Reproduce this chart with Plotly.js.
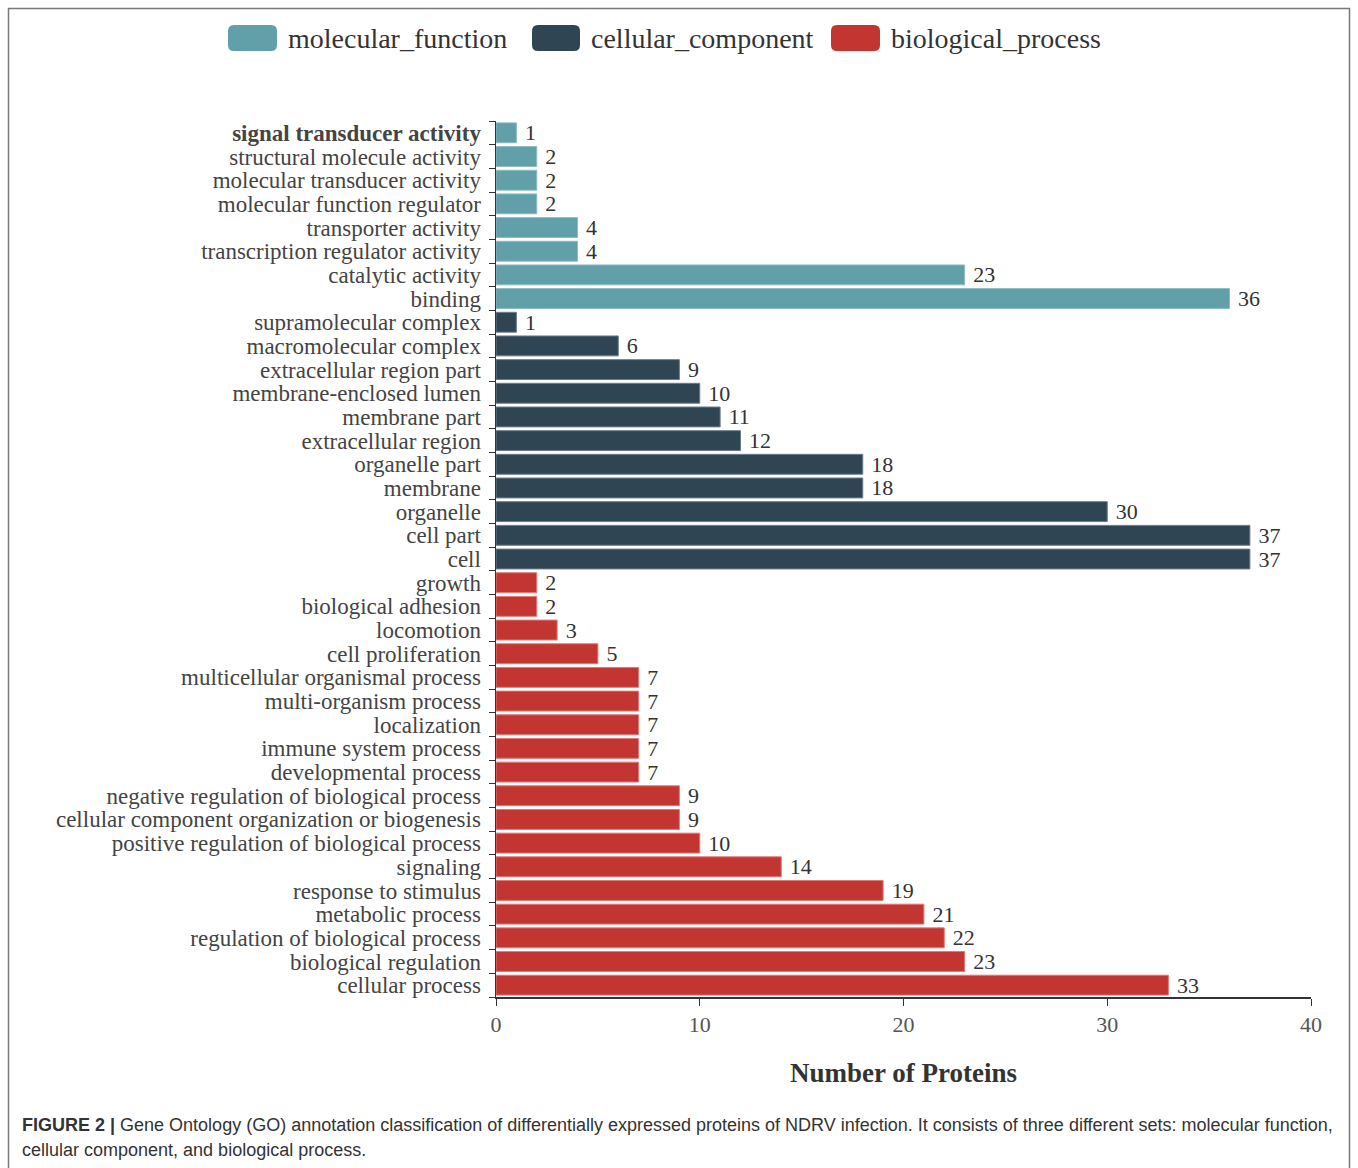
<!DOCTYPE html>
<html>
<head>
<meta charset="utf-8">
<script src="https://cdn.plot.ly/plotly-3.0.1.min.js"></script>
<style>
html,body{margin:0;padding:0;background:#fff;}
#chart{width:1358px;height:1168px;}
</style>
</head>
<body>
<div id="chart"></div>
<script>
// ---- data (top-to-bottom order) ----
const mfTerms = ["signal transducer activity","structural molecule activity","molecular transducer activity","molecular function regulator","transporter activity","transcription regulator activity","catalytic activity","binding"];
const mfCounts = [1,2,2,2,4,4,23,36];

const ccTerms = ["supramolecular complex","macromolecular complex","extracellular region part","membrane-enclosed lumen","membrane part","extracellular region","organelle part","membrane","organelle","cell part","cell"];
const ccCounts = [1,6,9,10,11,12,18,18,30,37,37];

const bpTerms = ["growth","biological adhesion","locomotion","cell proliferation","multicellular organismal process","multi-organism process","localization","immune system process","developmental process","negative regulation of biological process","cellular component organization or biogenesis","positive regulation of biological process","signaling","response to stimulus","metabolic process","regulation of biological process","biological regulation","cellular process"];
const bpCounts = [2,2,3,5,7,7,7,7,7,9,9,10,14,19,21,22,23,33];

const seriesNames = ["molecular_function","cellular_component","biological_process"];
const seriesColors = ["#61a0a8","#2f4554","#c23531"];
const seriesEdge = ["#8dbcc2","#6a7c8a","#de7a76"];

const xTicks = [0,10,20,30,40];
const xTitle = "Number of Proteins";
const captionLine1 = "<b>FIGURE 2 |</b> Gene Ontology (GO) annotation classification of differentially expressed proteins of NDRV infection. It consists of three different sets: molecular function,";
const captionLine2 = "cellular component, and biological process.";
const boldTerm = "signal transducer activity";

// ---- layout geometry ----
const W = 1358, H = 1168;
const M = {l:496, r:47, t:121, b:171};
const PW = W - M.l - M.r, PH = H - M.t - M.b;
const px = v => (v - M.l) / PW;
const py = v => (H - M.b - v) / PH;

const allTerms = mfTerms.concat(ccTerms, bpTerms);
const tickText = allTerms.map(t => t === boldTerm ? "<b>" + t + "</b>" : t);

const serif = "Liberation Serif, Times New Roman, serif";
const groups = [[mfTerms, mfCounts],[ccTerms, ccCounts],[bpTerms, bpCounts]];

const traces = groups.map((g, i) => ({
  type: "bar",
  orientation: "h",
  name: seriesNames[i],
  y: g[0],
  x: g[1],
  marker: {color: seriesColors[i], line: {color: seriesEdge[i], width: 1}},
  text: g[1].map(v => " " + v),
  textposition: "outside",
  constraintext: "none",
  textfont: {family: serif, size: 22, color: "#333"},
  cliponaxis: false,
  showlegend: false,
  hoverinfo: "x+y"
}));

// legend drawn with shapes + annotations
function roundRect(x0, y0, x1, y1, r) {
  const X = px, Y = py;
  return "M" + X(x0 + r) + "," + Y(y0) +
    " L" + X(x1 - r) + "," + Y(y0) +
    " Q" + X(x1) + "," + Y(y0) + " " + X(x1) + "," + Y(y0 + r) +
    " L" + X(x1) + "," + Y(y1 - r) +
    " Q" + X(x1) + "," + Y(y1) + " " + X(x1 - r) + "," + Y(y1) +
    " L" + X(x0 + r) + "," + Y(y1) +
    " Q" + X(x0) + "," + Y(y1) + " " + X(x0) + "," + Y(y1 - r) +
    " L" + X(x0) + "," + Y(y0 + r) +
    " Q" + X(x0) + "," + Y(y0) + " " + X(x0 + r) + "," + Y(y0) + " Z";
}
const legendSw = [[228, 277], [532, 580], [831, 880]];
const legendTx = [286, 589, 889];
const shapes = [];
const annotations = [];
legendSw.forEach((s, i) => {
  shapes.push({type: "path", xref: "paper", yref: "paper", path: roundRect(s[0], 25, s[1], 51, 6),
    fillcolor: seriesColors[i], line: {width: 0}});
  annotations.push({xref: "paper", yref: "paper", x: px(legendTx[i]), y: py(38), xanchor: "left", yanchor: "middle",
    text: seriesNames[i], showarrow: false, font: {family: serif, size: 28, color: "#333"}});
});
// outer frame
shapes.push({type: "rect", xref: "paper", yref: "paper", x0: px(8.5), x1: px(1349.5), y0: py(8.5), y1: py(1180),
  line: {color: "#7a7a7a", width: 1.5}, fillcolor: "rgba(0,0,0,0)"});
// caption
const sans = "Liberation Sans, Arial, sans-serif";
annotations.push({xref: "paper", yref: "paper", x: px(20), y: py(1125), xanchor: "left", yanchor: "middle",
  text: captionLine1, showarrow: false, font: {family: sans, size: 18, color: "#333"}});
annotations.push({xref: "paper", yref: "paper", x: px(20), y: py(1150), xanchor: "left", yanchor: "middle",
  text: captionLine2, showarrow: false, font: {family: sans, size: 18, color: "#333"}});
// x-axis title
annotations.push({xref: "paper", yref: "paper", x: 0.5, y: py(1073), xanchor: "center", yanchor: "middle",
  text: "<b>" + xTitle + "</b>", showarrow: false, font: {family: serif, size: 27, color: "#333"}});

const layout = {
  width: W, height: H,
  margin: M,
  paper_bgcolor: "#fff", plot_bgcolor: "#fff",
  bargap: 0.16,
  barmode: "group",
  xaxis: {
    range: [0, 40], tickvals: xTicks, ticks: "outside", ticklen: 7, tickcolor: "#333",
    showline: true, linecolor: "#333", linewidth: 1.5, showgrid: false, zeroline: false,
    tickfont: {family: serif, size: 22, color: "#555"}, fixedrange: true
  },
  yaxis: {
    type: "category", categoryorder: "array", categoryarray: allTerms,
    tickvals: allTerms, ticktext: tickText,
    autorange: "reversed", tickson: "boundaries", ticks: "outside", ticklen: 6, tickcolor: "#333",
    ticklabelstandoff: 9,
    showline: true, linecolor: "#333", linewidth: 1.5, showgrid: false, zeroline: false,
    tickfont: {family: serif, size: 23, color: "#444"}, fixedrange: true
  },
  shapes: shapes,
  annotations: annotations,
  showlegend: false
};

Plotly.newPlot("chart", traces, layout, {displayModeBar: false, staticPlot: true});
</script>
</body>
</html>
